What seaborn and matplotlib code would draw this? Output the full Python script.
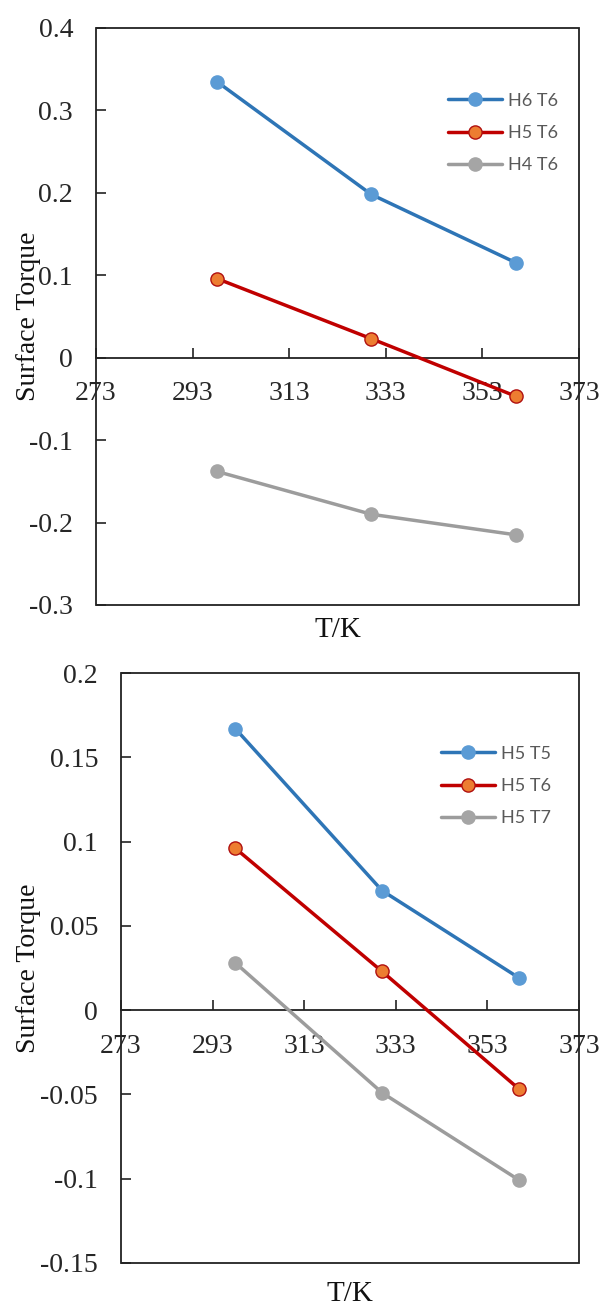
import matplotlib
matplotlib.use("Agg")
import matplotlib.pyplot as plt
from matplotlib.patches import Rectangle
from matplotlib.ticker import FixedLocator, FuncFormatter
import seaborn as sns

# Temperatures (K) at which surface torque was evaluated
temperature = [298, 330, 360]

# Upper panel: varying H at T6
h6t6 = [0.335, 0.198, 0.115]
h5t6 = [0.096, 0.023, -0.047]
h4t6 = [-0.138, -0.190, -0.215]
top_labels = ["H6 T6", "H5 T6", "H4 T6"]

# Lower panel: varying T at H5
h5t5 = [0.167, 0.071, 0.019]
h5t7 = [0.028, -0.049, -0.101]
bottom_labels = ["H5 T5", "H5 T6", "H5 T7"]

x_ticks = [273, 293, 313, 333, 353, 373]
top_yticks = [-0.3, -0.2, -0.1, 0.0, 0.1, 0.2, 0.3, 0.4]
bottom_yticks = [-0.15, -0.1, -0.05, 0.0, 0.05, 0.1, 0.15, 0.2]

x_label = "T/K"
y_label = "Surface Torque"

sns.set_style("white")
plt.rcParams["font.family"] = ["Liberation Serif", "DejaVu Serif"]
plt.rcParams["axes.unicode_minus"] = False

# (line colour, marker face, marker edge)
styles = [
    ("#2E75B6", "#5B9BD5", "#5B9BD5"),
    ("#C00000", "#ED7D31", "#B01010"),
    ("#9C9C9C", "#A5A5A5", "#A5A5A5"),
]

FRAME = "#222222"


def draw_panel(ax, series, labels, yticks, legend_anchor, ylabel_x, xlabel_y):
    for vals, lab, (lc, fc, ec) in zip(series, labels, styles):
        sns.lineplot(x=temperature, y=vals, ax=ax, color=lc, linewidth=2.5,
                     marker="o", markersize=9.5, markerfacecolor=fc,
                     markeredgecolor=ec, markeredgewidth=1.0, label=lab,
                     zorder=3)

    ax.set_xlim(x_ticks[0], x_ticks[-1])
    ax.set_ylim(yticks[0], yticks[-1])
    ax.xaxis.set_major_locator(FixedLocator(x_ticks))
    ax.yaxis.set_major_locator(FixedLocator(yticks))
    ax.xaxis.set_major_formatter(FuncFormatter(lambda v, p: f"{v:.0f}"))
    ax.yaxis.set_major_formatter(FuncFormatter(lambda v, p: f"{round(v, 3):g}"))

    # horizontal axis runs through zero, full box frame around the plot
    for side in ("top", "right", "left"):
        ax.spines[side].set_visible(False)
    ax.spines["bottom"].set_position(("data", 0))
    ax.spines["bottom"].set_color(FRAME)
    ax.spines["bottom"].set_linewidth(1.3)
    ax.add_patch(Rectangle((0, 0), 1, 1, transform=ax.transAxes, fill=False,
                           edgecolor=FRAME, linewidth=1.3, clip_on=False,
                           zorder=2.6))

    ax.tick_params(axis="x", direction="in", length=7, width=1.2,
                   color=FRAME, pad=17, labelsize=20, bottom=True)
    ax.tick_params(axis="y", direction="in", length=7, width=1.2,
                   color=FRAME, pad=16.5, labelsize=20, left=True)
    ax.grid(False)

    ax.set_xlabel(x_label, fontsize=21, color="#111111")
    ax.set_ylabel(y_label, fontsize=20, color="#111111")
    ax.xaxis.set_label_coords(0.5, xlabel_y)
    ax.yaxis.set_label_coords(ylabel_x, 0.5)

    ax.legend(loc="upper left", bbox_to_anchor=legend_anchor, frameon=False,
              borderaxespad=0, borderpad=0, handlelength=3.0,
              handletextpad=0.3, labelspacing=0.9, labelcolor="#595959",
              prop={"family": "Lato", "size": 13})


fig = plt.figure(figsize=(6.05, 13.06), dpi=100)
ax_top = fig.add_axes([0.1587, 0.5368, 0.7983, 0.4418])
ax_bot = fig.add_axes([0.2000, 0.0330, 0.7570, 0.4515])

draw_panel(ax_top, [h6t6, h5t6, h4t6], top_labels, top_yticks,
           (0.729, 0.888), -0.114, -0.021)
draw_panel(ax_bot, [h5t5, h5t6, h5t7], bottom_labels, bottom_yticks,
           (0.699, 0.877), -0.175, -0.030)

fig.savefig("out.png", dpi=100, facecolor="white")
